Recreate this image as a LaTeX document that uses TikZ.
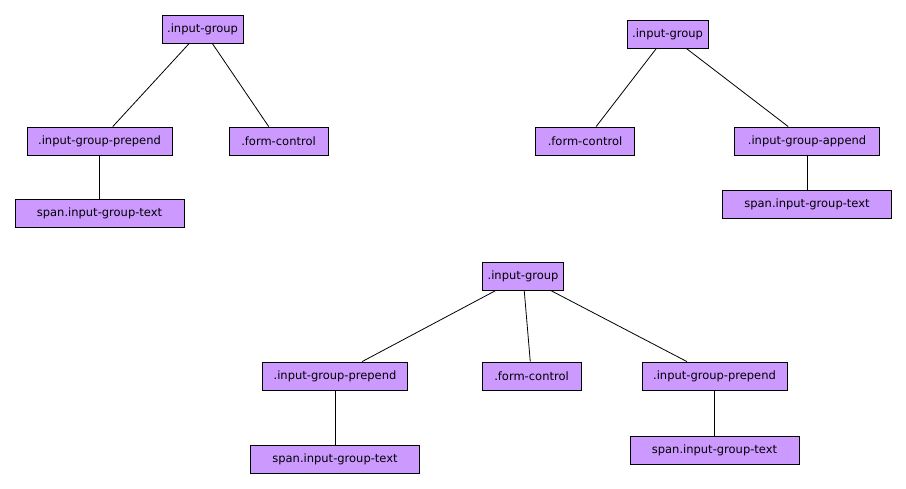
\documentclass[tikz,border=0pt]{standalone}
\usepackage{fontspec}
\setmainfont{DejaVu Sans}
\definecolor{boxfill}{HTML}{CC99FF}
\tikzset{
  cls/.style={draw, fill=boxfill, line width=0.8pt, minimum height=28pt, inner sep=0pt, font=\fontsize{11.5}{13}\selectfont},
}
\begin{document}
\begin{tikzpicture}[line width=0.8pt]
\useasboundingbox (0,0) rectangle (906pt,-488pt);
% prepend only
\node[cls, minimum width=81pt] (r1) at (202.5pt,-29pt) {.input-group};
\node[cls, minimum width=145pt, below of=r1, node distance=112pt, xshift=-103pt] (p1) {.input-group-prepend};
\node[cls, minimum width=99pt, below of=r1, node distance=112pt, xshift=76pt] (f1) {.form-control};
\node[cls, minimum width=169pt, below of=p1, node distance=72pt] (s1) {span.input-group-text};

% append only
\node[cls, minimum width=81pt] (r2) at (667.5pt,-34pt) {.input-group};
\node[cls, minimum width=99pt, below of=r2, node distance=107pt, xshift=-82.5pt] (f2) {.form-control};
\node[cls, minimum width=145pt, below of=r2, node distance=107pt, xshift=139.5pt] (a2) {.input-group-append};
\node[cls, minimum width=169pt, below of=a2, node distance=63.5pt] (s2) {span.input-group-text};

% both sides
\node[cls, minimum width=81pt] (r3) at (523pt,-276pt) {.input-group};
\node[cls, minimum width=145pt, below of=r3, node distance=100pt, xshift=-188pt] (p3) {.input-group-prepend};
\node[cls, minimum width=99pt, below of=r3, node distance=100pt, xshift=8.5pt] (f3) {.form-control};
\node[cls, minimum width=145pt, below of=r3, node distance=100pt, xshift=191.5pt] (q3) {.input-group-prepend};
\node[cls, minimum width=169pt, below of=p3, node distance=83pt] (s3) {span.input-group-text};
\node[cls, minimum width=169pt, below of=q3, node distance=74pt] (t3) {span.input-group-text};

\draw (r1) -- (p1);
\draw (r1) -- (f1);
\draw (p1) -- (s1);
\draw (r2) -- (f2);
\draw (r2) -- (a2);
\draw (a2) -- (s2);
\draw (r3) -- (p3);
\draw (r3) -- (f3);
\draw (r3) -- (q3);
\draw (p3) -- (s3);
\draw (q3) -- (t3);
\end{tikzpicture}
\end{document}
